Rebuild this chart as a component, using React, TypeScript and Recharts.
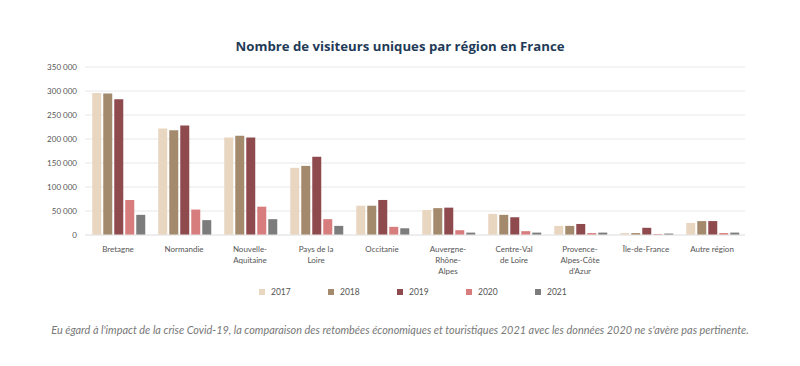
import React from 'react';
import { BarChart, Bar, XAxis, YAxis, CartesianGrid, Legend } from 'recharts';

const regions = [
  'Bretagne',
  'Normandie',
  'Nouvelle-Aquitaine',
  'Pays de la Loire',
  'Occitanie',
  'Auvergne-Rhône-Alpes',
  'Centre-Val de Loire',
  "Provence-Alpes-Côte d'Azur",
  'Île-de-France',
  'Autre région',
];

// how each region name is broken on the axis
const regionLines: string[][] = [
  ['Bretagne'],
  ['Normandie'],
  ['Nouvelle-', 'Aquitaine'],
  ['Pays de la', 'Loire'],
  ['Occitanie'],
  ['Auvergne-', 'Rhône-', 'Alpes'],
  ['Centre-Val', 'de Loire'],
  ['Provence-', 'Alpes-Côte', "d'Azur"],
  ['Île-de-France'],
  ['Autre région'],
];

const v2017 = [296000, 222000, 203000, 140000, 61000, 52000, 44000, 19000, 4000, 25000];
const v2018 = [295000, 218000, 207000, 144000, 61000, 56000, 42000, 19000, 4000, 29000];
const v2019 = [283000, 228000, 203000, 163000, 73000, 57000, 37000, 23000, 15000, 29000];
const v2020 = [73000, 53000, 59000, 33000, 17000, 10000, 8000, 4000, 2000, 4000];
const v2021 = [42000, 31000, 33000, 19000, 14000, 5000, 5000, 5000, 3000, 5000];

const yTicks = [0, 50000, 100000, 150000, 200000, 250000, 300000, 350000];

const years = ['2017', '2018', '2019', '2020', '2021'];
const colors = ['#e9d6c1', '#a38a6d', '#8f4a4e', '#d87d7d', '#7c7c7c'];

const data = regions.map((name, i) => ({
  name,
  y2017: v2017[i],
  y2018: v2018[i],
  y2019: v2019[i],
  y2020: v2020[i],
  y2021: v2021[i],
}));

const fmt = (v: number) => (v === 0 ? '0' : `${Math.round(v / 1000)} 000`);

const RegionTick = (props: any) => {
  const { x, y, payload } = props;
  const idx = regions.indexOf(payload.value);
  const lines = idx >= 0 ? regionLines[idx] : [payload.value];
  return (
    <text x={x} y={y + 9} textAnchor="middle" fill="#555" fontSize={8} fontFamily="Lato">
      {lines.map((l, k) => (
        <tspan key={k} x={x} dy={k === 0 ? 0 : 11}>
          {l}
        </tspan>
      ))}
    </text>
  );
};

const LegendBox = () => (
  <div style={{ display: 'flex', justifyContent: 'flex-start', paddingLeft: 259 }}>
    {years.map((yr, i) => (
      <div
        key={yr}
        style={{ display: 'flex', alignItems: 'center', width: 69, fontFamily: 'Lato', fontSize: 8.5, color: '#555' }}
      >
        <span style={{ width: 6, height: 6, background: colors[i], display: 'inline-block', marginRight: 6 }} />
        {yr}
      </div>
    ))}
  </div>
);

export default function App() {
  return (
    <div style={{ position: 'fixed', left: 0, top: 0, width: 800, height: 366, background: '#fff' }}>
      <div
        style={{
          position: 'absolute',
          top: 37,
          width: 800,
          textAlign: 'center',
          fontFamily: '"Open Sans"',
          fontWeight: 700,
          fontSize: 13.2,
          color: '#1f3b57',
        }}
      >
        Nombre de visiteurs uniques par région en France
      </div>
      <BarChart
        width={800}
        height={310}
        data={data}
        margin={{ top: 67, right: 55, left: 0, bottom: 15 }}
        barCategoryGap="11%"
        barGap={2}
        style={{ position: 'absolute', top: 0, left: 0 }}
      >
        <CartesianGrid vertical={false} stroke="#e8e8e8" />
        <XAxis
          dataKey="name"
          interval={0}
          tick={<RegionTick />}
          tickLine={false}
          axisLine={{ stroke: '#e8e8e8' }}
          height={50}
        />
        <YAxis
          ticks={yTicks}
          domain={[0, 350000]}
          tickFormatter={fmt}
          tick={{ fill: '#555', fontSize: 8, fontFamily: 'Lato' }}
          axisLine={false}
          tickLine={false}
          width={85}
        />
        <Legend
          verticalAlign="bottom"
          wrapperStyle={{ top: 287, left: 0, width: 800 }}
          content={<LegendBox />}
        />
        {years.map((yr, i) => (
          <Bar key={yr} dataKey={`y${yr}`} name={yr} fill={colors[i]} isAnimationActive={false} />
        ))}
      </BarChart>
      <div
        style={{
          position: 'absolute',
          top: 323,
          width: 800,
          textAlign: 'center',
          fontFamily: 'Lato',
          fontStyle: 'italic',
          fontSize: 10.9,
          color: '#777',
        }}
      >
        Eu égard à l'impact de la crise Covid-19, la comparaison des retombées économiques et touristiques 2021 avec les données 2020 ne s'avère pas pertinente.
      </div>
    </div>
  );
}
